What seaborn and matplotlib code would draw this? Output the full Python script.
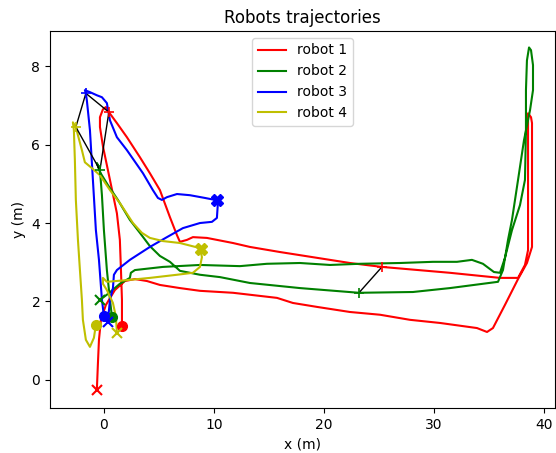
import matplotlib
matplotlib.use("Agg")
import matplotlib.pyplot as plt
import seaborn as sns
import pandas as pd

# ---- data (metres) ----
robot1_x = [1.64, 1.64, 1.55, 1.45, 1.18, 0.55, -0.09, -0.36, -0.36, -0.09, 0.18, 0.45, 1.18, 2.09, 3.27,
            4.18, 5.09, 6.00, 6.64, 6.91, 7.55, 8.09, 9.36, 11.73, 13.27, 16.00, 17.82, 22.36, 25.27, 31.45,
            36.00, 37.64, 38.27, 38.55, 38.55, 38.55, 38.55, 38.82, 38.91, 38.91, 38.91, 38.45, 37.64, 36.45,
            35.36, 34.82, 33.91, 30.55, 27.82, 25.09, 22.36, 19.36, 17.18, 15.73, 11.73, 8.73, 6.91, 5.09,
            3.91, 2.82, 1.91, 1.00, 0.18, -0.27, -0.45, -0.55, -0.64]
robot1_y = [1.38, 2.04, 2.80, 3.57, 4.25, 5.10, 5.96, 6.45, 6.70, 6.90, 6.96, 6.83, 6.55, 6.19, 5.68,
            5.27, 4.84, 4.15, 3.69, 3.52, 3.57, 3.64, 3.62, 3.49, 3.39, 3.26, 3.18, 2.98, 2.88, 2.73,
            2.60, 2.60, 2.93, 3.31, 4.59, 6.11, 6.80, 6.70, 6.55, 5.10, 3.39, 2.98, 2.57, 1.91,
            1.32, 1.22, 1.32, 1.45, 1.53, 1.66, 1.73, 1.86, 1.96, 2.09, 2.22, 2.27, 2.34, 2.42,
            2.52, 2.57, 2.52, 2.29, 1.91, 1.53, 1.02, 0.38, -0.25]

robot2_x = [0.73, 0.55, 0.27, 0.00, -0.18, -0.36, -0.64, -0.36, 0.36, 1.27, 2.36, 3.27, 4.18, 5.09, 6.00,
            6.91, 8.73, 10.55, 13.27, 17.82, 23.18, 28.09, 31.45, 35.82, 36.27, 36.73, 37.09, 37.64, 38.18,
            38.73, 39.00, 39.00, 38.82, 38.64, 38.45, 38.36, 38.36, 38.27, 37.82, 37.09, 36.45, 36.00,
            35.45, 34.45, 33.45, 32.09, 29.91, 26.91, 23.27, 20.55, 17.82, 14.82, 12.36, 8.73, 5.36,
            2.82, 2.45, 2.36, 1.45, 0.36, -0.36]
robot2_y = [1.61, 2.04, 2.80, 3.82, 4.71, 5.35, 5.53, 5.30, 4.97, 4.59, 4.08, 3.75, 3.41, 3.16, 3.01,
            2.78, 2.68, 2.62, 2.47, 2.34, 2.22, 2.24, 2.34, 2.50, 2.80, 3.57, 4.08, 5.10, 6.11,
            6.88, 7.39, 8.03, 8.41, 8.48, 8.15, 7.39, 6.37, 5.10, 4.46, 3.82, 3.11, 2.73,
            2.75, 2.96, 3.06, 3.01, 3.01, 2.98, 2.96, 2.93, 2.98, 2.96, 2.90, 2.93, 2.88,
            2.80, 2.73, 2.60, 2.45, 2.19, 2.04]

robot3_x = [0.00, -0.18, -0.45, -0.73, -1.00, -1.27, -1.55, -1.64, -1.73, -1.27, -0.64, -0.18, 0.27, 0.55,
            1.18, 2.09, 3.55, 4.45, 4.91, 5.27, 5.73, 6.64, 7.82, 9.18, 10.09, 10.36, 10.27, 9.82, 8.73,
            7.18, 5.73, 4.18, 2.36, 1.18, 0.91, 0.82, 0.55, 0.36]
robot3_y = [1.63, 2.04, 3.06, 3.82, 5.10, 6.37, 7.13, 7.31, 7.39, 7.34, 7.26, 7.21, 7.06, 6.62,
            6.19, 5.86, 5.27, 4.84, 4.64, 4.59, 4.66, 4.74, 4.71, 4.64, 4.59, 4.51, 4.13, 4.03, 4.00,
            3.87, 3.64, 3.39, 3.06, 2.80, 2.68, 2.34, 2.04, 1.48]

robot4_x = [-0.73, -0.91, -1.27, -1.64, -1.91, -2.00, -2.18, -2.36, -2.55, -2.64, -2.73, -2.82, -2.55, -2.36,
            -2.00, -1.73, -1.09, -0.36, 0.55, 1.45, 2.64, 3.45, 4.18, 5.36, 6.91, 8.73, 8.91, 8.73, 8.09,
            6.64, 4.18, 2.36, 0.27, -0.09, -0.09, 0.27, 0.82, 1.09, 1.18]
robot4_y = [1.40, 1.07, 0.84, 1.02, 1.53, 2.04, 2.80, 3.57, 4.59, 5.61, 6.37, 6.57, 6.45, 6.24,
            5.86, 5.55, 5.40, 5.22, 4.84, 4.51, 4.00, 3.75, 3.62, 3.54, 3.49, 3.36, 3.13, 2.88, 2.73,
            2.68, 2.60, 2.55, 2.50, 2.60, 2.45, 2.29, 1.96, 1.61, 1.20]

labels = ["robot 1", "robot 2", "robot 3", "robot 4"]
colors = ["r", "g", "b", "y"]

# start (o) and end (x) markers
start_x = [1.64, 0.73, 0.00, -0.73]
start_y = [1.38, 1.61, 1.63, 1.40]
end_x = [-0.64, -0.36, 0.36, 1.18]
end_y = [-0.25, 2.04, 1.48, 1.20]
# goal markers (X) for robots 3 and 4
goal_x = [10.27, 8.82]
goal_y = [4.59, 3.34]
goal_colors = ["b", "y"]

# formation snapshots (+ markers joined in black)
snap1_x = [-1.64, 0.45, -0.36, -2.55, -1.64]   # robot 3, 1, 2, 4, back to 3
snap1_y = [7.31, 6.83, 5.35, 6.45, 7.31]
snap1_colors = ["b", "r", "g", "y"]
snap2_x = [23.18, 25.27]   # robot 2, robot 1
snap2_y = [2.22, 2.88]
snap2_colors = ["g", "r"]

xs = [robot1_x, robot2_x, robot3_x, robot4_x]
ys = [robot1_y, robot2_y, robot3_y, robot4_y]

fig = plt.figure(figsize=(5.56, 4.53), dpi=100)
ax = fig.add_axes([50 / 556, 45 / 453, 505 / 556, 377 / 453])

for x, y, c, lab in zip(xs, ys, colors, labels):
    df = pd.DataFrame({"x": x, "y": y})
    sns.lineplot(data=df, x="x", y="y", sort=False, estimator=None, color=c,
                 linewidth=1.5, label=lab, ax=ax)

# black snapshot links
ax.plot(snap1_x, snap1_y, color="k", linewidth=1.0)
ax.plot(snap2_x, snap2_y, color="k", linewidth=1.0)
for px, py, c in zip(snap1_x[:4], snap1_y[:4], snap1_colors):
    ax.plot(px, py, marker="+", color=c, markersize=7, mew=1.2)
for px, py, c in zip(snap2_x, snap2_y, snap2_colors):
    ax.plot(px, py, marker="+", color=c, markersize=7, mew=1.2)

for px, py, c in zip(start_x, start_y, colors):
    ax.plot(px, py, marker="o", color=c, markersize=7, linestyle="none")
for px, py, c in zip(end_x, end_y, colors):
    ax.plot(px, py, marker="x", color=c, markersize=7, mew=1.5, linestyle="none")
for px, py, c in zip(goal_x, goal_y, goal_colors):
    ax.plot(px, py, marker="X", color=c, markersize=8, linestyle="none")

ax.set_xlim(-4.9, 41.0)
ax.set_ylim(-0.72, 8.9)
ax.set_xticks([0, 10, 20, 30, 40])
ax.set_yticks([0, 2, 4, 6, 8])
ax.set_xlabel("x (m)")
ax.set_ylabel("y (m)")
ax.set_title("Robots trajectories")
ax.legend(loc="upper center")

fig.savefig("out.png", dpi=100)
